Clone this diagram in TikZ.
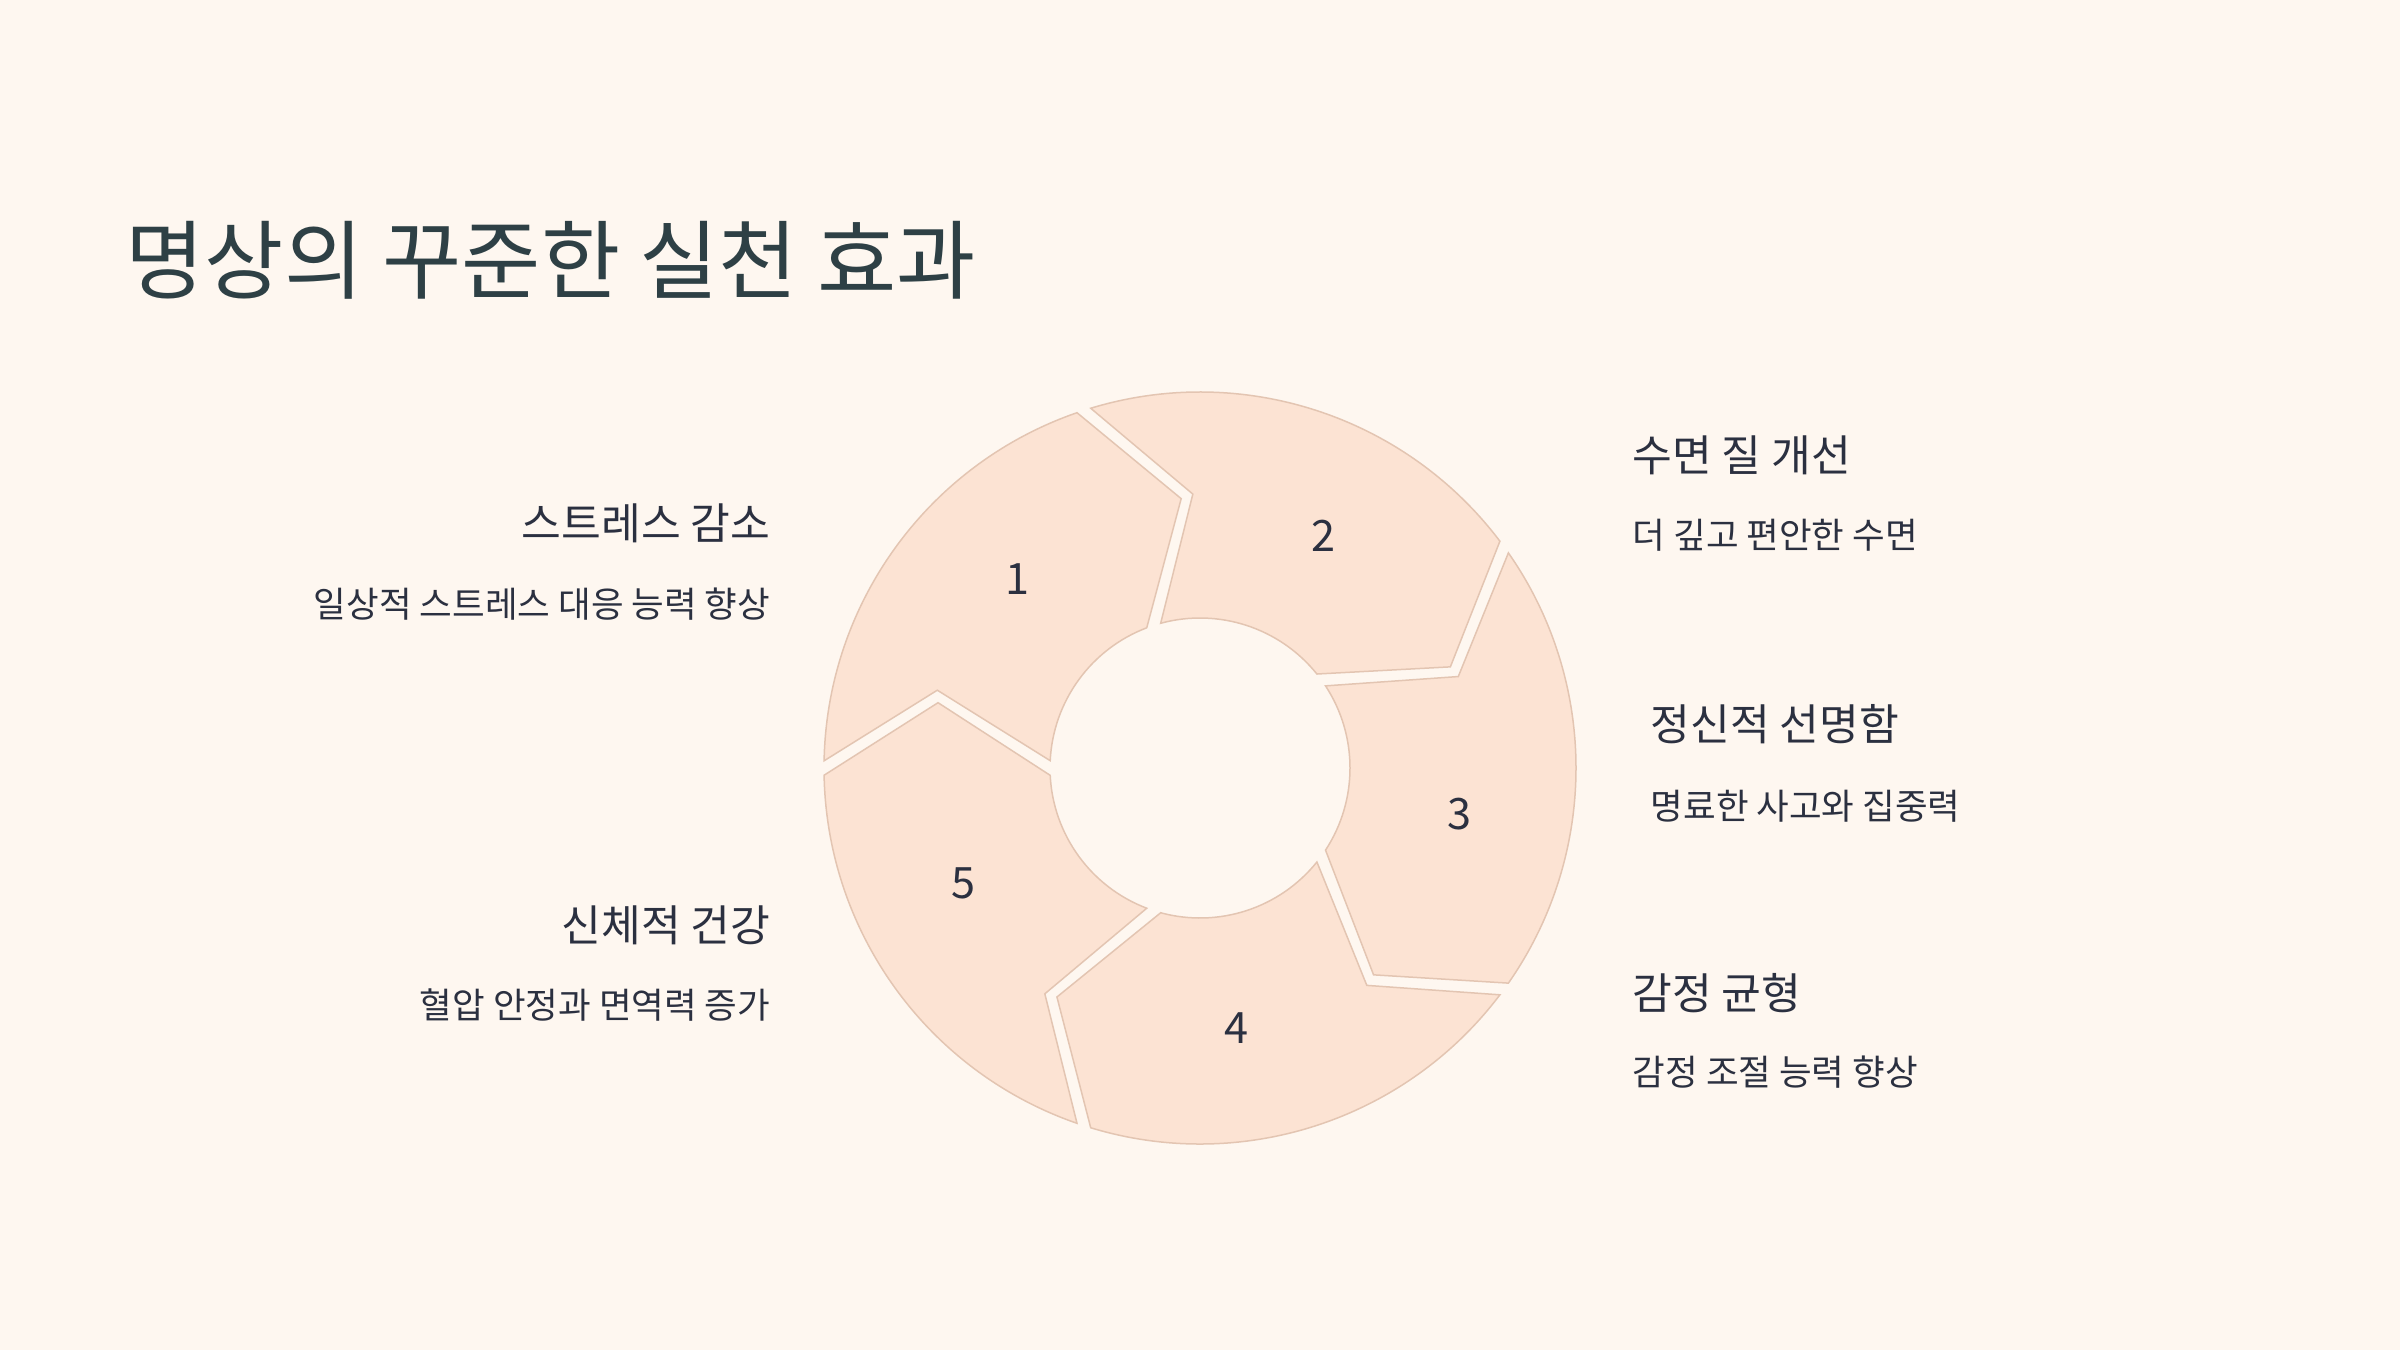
\documentclass[tikz,border=0pt]{standalone}
\usepackage{fontspec}
\setmainfont{Noto Sans CJK KR}
\usetikzlibrary{calc, positioning}
\definecolor{bgcol}{RGB}{254, 247, 240}
\definecolor{segcol}{RGB}{252, 227, 211}
\definecolor{edgecol}{RGB}{227, 197, 178}
\definecolor{titlecol}{RGB}{46, 64, 69}
\definecolor{textcol}{RGB}{43, 48, 64}
\tikzset{
  seg/.style   = {fill=segcol, draw=edgecol, line width=0.15mm, line join=miter},
  num/.style   = {font=\fontsize{12.3}{14}\selectfont, text=textcol, inner sep=0pt},
  ttl/.style   = {font=\fontsize{24.5}{30}\selectfont, text=titlecol, inner sep=0pt},
  head/.style  = {font=\fontsize{12.3}{15}\selectfont, text=textcol, inner sep=0pt},
  sub/.style   = {font=\fontsize{10.1}{12}\selectfont, text=textcol, inner sep=0pt},
}

\begin{document}
\begin{tikzpicture}

  \fill[bgcol] (0,0) rectangle (24,13.5);
  \useasboundingbox (0,0) rectangle (24,13.5);

  %% ---------------- title ----------------
  \node[ttl, anchor=base west] (title) at (1.25,10.57) {명상의 꾸준한 실천 효과};

  %% ---------------- the ring ----------------
  \coordinate (ring) at (12.00,5.82);
  \begin{scope}[shift={(ring)}]
    \foreach \n/\a in {1/180, 2/108, 3/36, 4/-36, 5/-108} {
      \pgfmathsetmacro{\b}{\a-72}
      \draw[seg] (\a-1.1:3.76) arc[start angle=\a-1.1, end angle=\b+1.1, radius=3.76]
           -- (\b-14:2.70) -- (\b+2.8:1.50)
           arc[start angle=\b+2.8, end angle=\a-2.8, radius=1.50]
           -- (\a-16.5:2.74) -- cycle;
      \node[num] (n\n) at (\a-46:2.63) {\n};
    }
  \end{scope}

  %% ---------------- left side ----------------
  \node[head, anchor=base east] (h1) at (7.71,8.11) {스트레스 감소};
  \node[sub, anchor=base east] (s1) at ($(h1.base east)+(0,-0.78)$)
       {일상적 스트레스 대응 능력 향상};
  \node[head, anchor=base east] (h5) at (7.71,4.09) {신체적 건강};
  \node[sub, anchor=base east] (s5) at ($(h5.base east)+(0,-0.77)$)
       {혈압 안정과 면역력 증가};

  %% ---------------- right side ----------------
  \node[head, anchor=base west] (h2) at (16.32,8.79) {수면 질 개선};
  \node[sub, anchor=base west] (s2) at ($(h2.base west)+(0,-0.77)$)
       {더 깊고 편안한 수면};
  \node[head, anchor=base west] (h3) at (16.50,6.10) {정신적 선명함};
  \node[sub, anchor=base west] (s3) at ($(h3.base west)+(0,-0.79)$)
       {명료한 사고와 집중력};
  \node[head, anchor=base west] (h4) at (16.32,3.41) {감정 균형};
  \node[sub, anchor=base west] (s4) at ($(h4.base west)+(0,-0.76)$)
       {감정 조절 능력 향상};

\end{tikzpicture}
\end{document}
